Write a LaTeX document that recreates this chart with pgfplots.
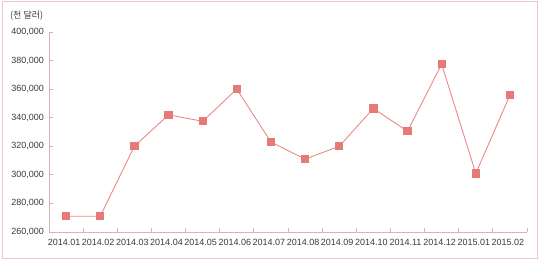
\documentclass[border=0pt]{standalone}
\usepackage{pgfplots}
\pgfplotsset{compat=1.18}
\usepackage{fontspec}
\setmainfont{Liberation Sans}
\newfontfamily\kr{Noto Sans CJK KR}
\definecolor{lin}{HTML}{E88A85}
\definecolor{mk}{HTML}{E57A78}
\definecolor{ax}{HTML}{DDB3B1}
\definecolor{frm}{HTML}{E8C6C4}
\definecolor{txt}{HTML}{3A3A3A}
\begin{document}
\begin{tikzpicture}
\begin{axis}[
  scale only axis, width=478bp, height=200bp,
  xmin=0.5, xmax=14.5, ymin=260000, ymax=400000,
  axis lines*=left,
  axis line style={draw=ax, line width=0.8bp},
  xtick={1,...,14},
  xticklabels={2014.01,2014.02,2014.03,2014.04,2014.05,2014.06,2014.07,2014.08,2014.09,2014.10,2014.11,2014.12,2015.01,2015.02},
  major x tick style={draw=none},
  minor xtick={0.5,1.5,...,14.5},
  minor tick length=4bp,
  minor x tick style={draw=ax, line width=0.8bp},
  ytick={260000,280000,...,400000},
  major tick length=4bp,
  y tick style={draw=ax, line width=0.8bp},
  scaled y ticks=false,
  tick label style={font=\fontsize{9bp}{11bp}\selectfont, text=txt},
  yticklabel style={xshift=-1.5bp, /pgf/number format/.cd, fixed, 1000 sep={,}, assume math mode=true},
  xticklabel style={yshift=-3.5bp, xshift=-2bp},
  clip=false,
]
\addplot[color=lin, line width=0.9bp, mark=square*, mark size=3.6bp, mark options={fill=mk, draw=mk}]
  coordinates {(1,271000) (2,271000) (3,320000) (4,342000) (5,337500) (6,360000) (7,323000) (8,311000) (9,320000) (10,346500) (11,330500) (12,377500) (13,301000) (14,355800)};
\coordinate (SW) at (rel axis cs:0,0);
\coordinate (NE) at (rel axis cs:1,1);
\coordinate (NW) at (rel axis cs:0,1);
\end{axis}
\node[anchor=west, font=\kr\fontsize{9bp}{11bp}\selectfont, text=txt, inner sep=0pt] at ([shift={(-39bp,16bp)}]NW) {(천 달러)};
\draw[frm, line width=0.8bp] ([shift={(-47bp,-26bp)}]SW) rectangle ([shift={(10bp,31bp)}]NE);
\path[use as bounding box] ([shift={(-49bp,-29bp)}]SW) rectangle ([shift={(13bp,32bp)}]NE);
\end{tikzpicture}
\end{document}
